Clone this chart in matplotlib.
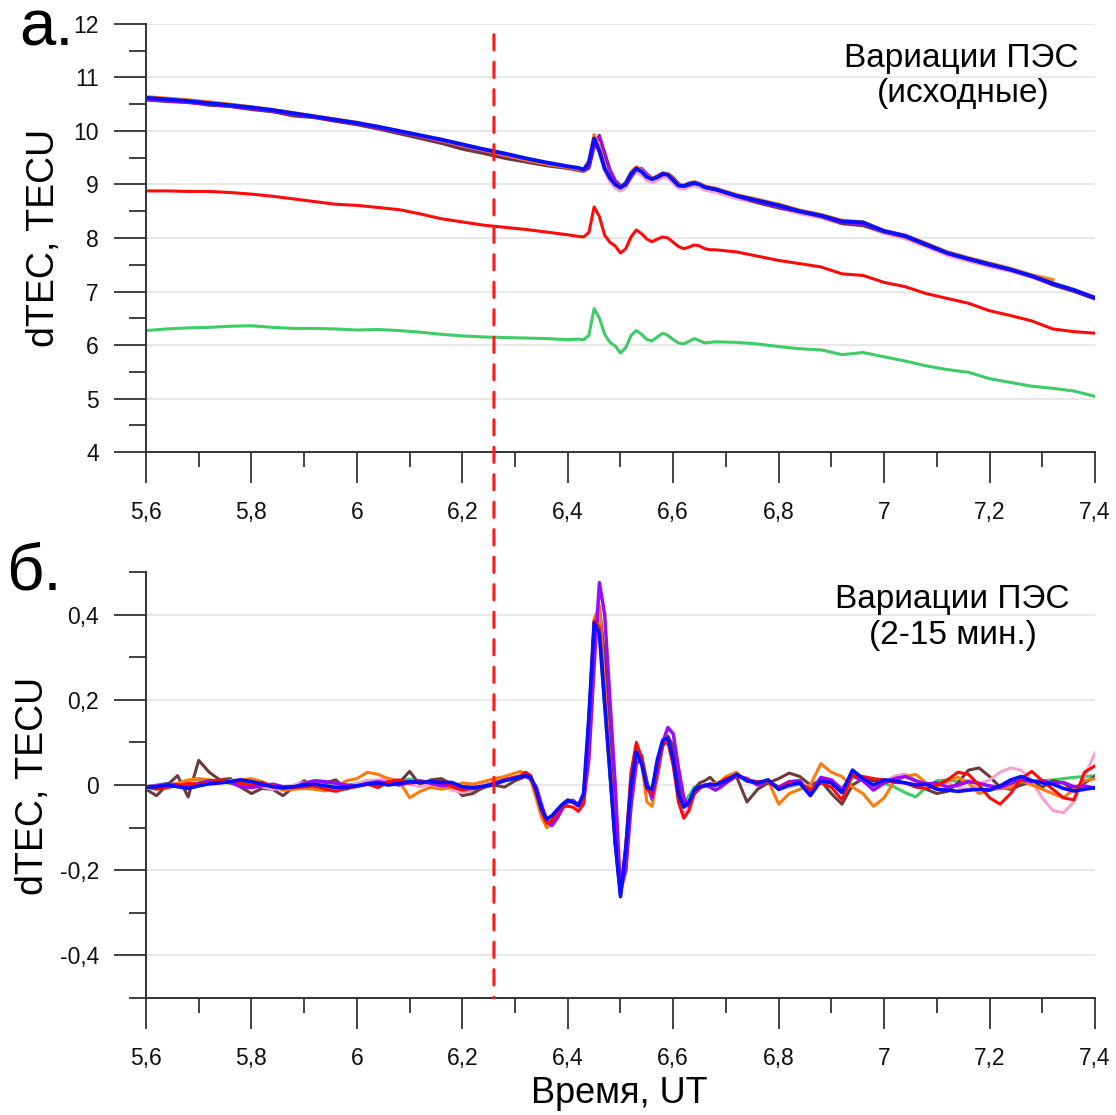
import matplotlib

matplotlib.use("Agg")
import matplotlib.pyplot as plt
import numpy as np
from matplotlib.patches import ConnectionPatch
from matplotlib.ticker import FuncFormatter, MultipleLocator

plt.rcParams["font.family"] = ["Liberation Sans", "DejaVu Sans"]
plt.rcParams["axes.unicode_minus"] = False

# --- panel a: raw TEC ---
TOP_TIME = [
    5.60, 5.64, 5.68, 5.72, 5.76, 5.80, 5.84, 5.88, 5.92, 5.96, 6.00,
    6.04, 6.08, 6.12, 6.16, 6.20, 6.24, 6.28, 6.32, 6.36, 6.40,
    6.42, 6.43, 6.44, 6.45, 6.46, 6.47, 6.48, 6.49, 6.50, 6.51, 6.52,
    6.53, 6.54, 6.55, 6.56, 6.57, 6.58, 6.59, 6.60, 6.61, 6.62, 6.63,
    6.64, 6.65, 6.66, 6.67, 6.68,
    6.72, 6.76, 6.80, 6.84, 6.88, 6.92, 6.96, 7.00, 7.04, 7.08, 7.12,
    7.16, 7.20, 7.24, 7.28, 7.32, 7.36, 7.40,
]
TOP_BLUE = [
    10.62, 10.59, 10.56, 10.52, 10.48, 10.44, 10.39, 10.33, 10.27, 10.21, 10.15,
    10.08, 10.00, 9.92, 9.84, 9.75, 9.66, 9.58, 9.49, 9.41, 9.34,
    9.31, 9.28, 9.40, 9.86, 9.62, 9.30, 9.12, 9.00, 8.94, 9.02, 9.20,
    9.30, 9.24, 9.14, 9.10, 9.14, 9.20, 9.18, 9.08, 8.98, 8.97, 9.01,
    9.03, 9.00, 8.95, 8.93, 8.91,
    8.79, 8.70, 8.61, 8.50, 8.42, 8.31, 8.29, 8.13, 8.04, 7.88, 7.72,
    7.61, 7.51, 7.41, 7.29, 7.15, 7.03, 6.88,
]
TOP_ORANGE = [
    10.64, 10.61, 10.58, 10.54, 10.50, 10.45, 10.40, 10.34, 10.28, 10.22, 10.16,
    10.08, 10.00, 9.91, 9.82, 9.73, 9.64, 9.55, 9.46, 9.38, 9.32,
    9.29, 9.27, 9.45, 9.93, 9.70, 9.34, 9.13, 9.01, 8.95, 9.04, 9.23,
    9.33, 9.27, 9.16, 9.12, 9.16, 9.22, 9.20, 9.10, 9.00, 8.99, 9.03,
    9.05, 9.02, 8.97, 8.95, 8.93,
    8.81, 8.72, 8.63, 8.52, 8.44, 8.33, 8.30, 8.14, 8.05, 7.90, 7.74,
    7.63, 7.53, 7.43, 7.31, 7.22, np.nan, np.nan,
]
TOP_BROWN = [
    10.58, 10.55, 10.54, 10.48, 10.46, 10.40, 10.36, 10.28, 10.25, 10.18, 10.12,
    10.04, 9.95, 9.86, 9.77, 9.66, 9.58, 9.49, 9.42, 9.35, 9.30,
    9.27, 9.25, 9.30, 9.70, 9.92, 9.55, 9.25, 9.05, 8.97, 8.98, 9.14,
    9.29, 9.28, 9.18, 9.11, 9.13, 9.19, 9.20, 9.12, 9.01, 8.96, 8.99,
    9.02, 9.00, 8.96, 8.92, 8.91,
    8.78, 8.66, 8.56, 8.49, 8.40, 8.27, 8.23, 8.11, 8.02, 7.86, 7.71,
    7.60, 7.49, 7.40, 7.29, 7.12, 7.00, 6.86,
]
TOP_PINK = [
    10.60, 10.57, 10.54, 10.50, 10.46, 10.42, 10.37, 10.31, 10.25, 10.19, 10.12,
    10.04, 9.96, 9.87, 9.78, 9.69, 9.60, 9.52, 9.44, 9.37, 9.31,
    9.26, 9.24, 9.35, 9.78, 9.62, 9.25, 9.06, 8.94, 8.88, 8.95, 9.13,
    9.24, 9.18, 9.08, 9.04, 9.08, 9.14, 9.12, 9.03, 8.93, 8.92, 8.96,
    8.98, 8.95, 8.90, 8.88, 8.86,
    8.74, 8.66, 8.57, 8.46, 8.38, 8.27, 8.24, 8.09, 7.99, 7.84, 7.68,
    7.57, 7.47, 7.38, 7.27, 7.13, 7.01, 6.90,
]
TOP_PURPLE = [
    10.59, 10.56, 10.53, 10.50, 10.46, 10.42, 10.37, 10.31, 10.26, 10.20, 10.14,
    10.06, 9.98, 9.90, 9.81, 9.72, 9.63, 9.54, 9.46, 9.38, 9.32,
    9.29, 9.27, 9.32, 9.72, 9.90, 9.60, 9.28, 9.08, 8.98, 8.99, 9.15,
    9.29, 9.30, 9.20, 9.12, 9.13, 9.18, 9.20, 9.13, 9.02, 8.97, 8.99,
    9.02, 9.01, 8.97, 8.93, 8.91,
    8.78, 8.68, 8.58, 8.49, 8.41, 8.29, 8.26, 8.12, 8.03, 7.87, 7.71,
    7.60, 7.50, 7.40, 7.28, 7.14, 7.02, 6.87,
]
TOP_RED = [
    8.88, 8.88, 8.87, 8.87, 8.85, 8.82, 8.78, 8.73, 8.68, 8.63, 8.61,
    8.57, 8.53, 8.45, 8.36, 8.30, 8.24, 8.20, 8.16, 8.11, 8.06,
    8.03, 8.02, 8.10, 8.58, 8.40, 8.05, 7.92, 7.85, 7.72, 7.80, 8.02,
    8.15, 8.08, 7.98, 7.93, 7.98, 8.02, 8.00, 7.92, 7.84, 7.80, 7.83,
    7.87, 7.85, 7.80, 7.78, 7.78,
    7.74, 7.66, 7.58, 7.52, 7.46, 7.33, 7.30, 7.17, 7.09, 6.96, 6.87,
    6.78, 6.64, 6.55, 6.45, 6.30, 6.25, 6.22,
]
TOP_GREEN = [
    6.27, 6.30, 6.32, 6.33, 6.35, 6.36, 6.33, 6.31, 6.31, 6.30, 6.28,
    6.29, 6.27, 6.24, 6.20, 6.17, 6.15, 6.14, 6.13, 6.12, 6.10,
    6.11, 6.10, 6.18, 6.68, 6.50, 6.20, 6.05, 5.98, 5.85, 5.95, 6.18,
    6.27, 6.20, 6.10, 6.08, 6.15, 6.22, 6.18, 6.10, 6.04, 6.02, 6.07,
    6.12, 6.08, 6.04, 6.05, 6.06,
    6.05, 6.02, 5.97, 5.93, 5.91, 5.82, 5.86, 5.78, 5.70, 5.61, 5.54,
    5.49, 5.37, 5.30, 5.23, 5.19, 5.14, 5.04,
]

# --- panel b: 2-15 min filtered TEC ---
BOT_TIME = [
    5.60, 5.62, 5.64, 5.66, 5.68, 5.70, 5.72, 5.74, 5.76, 5.78, 5.80, 5.82,
    5.84, 5.86, 5.88, 5.90, 5.92, 5.94, 5.96, 5.98, 6.00, 6.02, 6.04, 6.06,
    6.08, 6.10, 6.12, 6.14, 6.16, 6.18, 6.20, 6.22, 6.24, 6.26, 6.28, 6.30,
    6.31, 6.32, 6.33, 6.34, 6.35, 6.36, 6.37, 6.38, 6.39, 6.40, 6.41, 6.42,
    6.43, 6.44, 6.45, 6.46, 6.47, 6.48, 6.49, 6.50, 6.51, 6.52, 6.53, 6.54,
    6.55, 6.56, 6.57, 6.58, 6.59, 6.60, 6.61, 6.62, 6.63, 6.64, 6.65, 6.66,
    6.67, 6.68, 6.69,
    6.70, 6.72, 6.74, 6.76, 6.78, 6.80, 6.82, 6.84, 6.86, 6.88, 6.90, 6.92,
    6.94, 6.96, 6.98, 7.00, 7.02, 7.04, 7.06, 7.08, 7.10, 7.12, 7.14, 7.16,
    7.18, 7.20, 7.22, 7.24, 7.26, 7.28, 7.30, 7.32, 7.34, 7.36, 7.38, 7.40,
]
BOT_BLUE = [
    -0.005, -0.004, 0.000, -0.004, -0.008, -0.002, 0.003, 0.005, 0.008, 0.012, 0.008, 0.002,
    -0.004, -0.006, -0.004, 0.000, 0.002, -0.002, -0.006, -0.005, -0.002, 0.002, 0.004, 0.000,
    0.004, 0.008, 0.006, 0.008, 0.006, 0.006, -0.004, -0.006, -0.003, 0.002, 0.010, 0.016,
    0.019, 0.022, 0.018, -0.010, -0.055, -0.080, -0.072, -0.058, -0.045, -0.036, -0.040, -0.048,
    -0.020, 0.160, 0.380, 0.356, 0.190, 0.030, -0.135, -0.262, -0.150, 0.000, 0.078, 0.050,
    -0.005, -0.010, 0.060, 0.105, 0.110, 0.060, -0.020, -0.052, -0.040, -0.012, -0.004, -0.002,
    0.002, 0.000, 0.005,
    0.010, 0.025, 0.010, 0.005, 0.012, -0.010, 0.000, 0.005, -0.025, 0.010, 0.005, -0.018,
    0.035, 0.015, 0.000, 0.012, 0.010, 0.005, 0.000, 0.002, -0.010, -0.012, -0.015, -0.012,
    -0.010, -0.012, -0.002, 0.012, 0.020, 0.010, 0.005, 0.002, -0.008, -0.014, -0.010, -0.006,
]
BOT_PURPLE = [
    -0.004, -0.002, 0.002, 0.000, -0.004, 0.004, 0.010, 0.010, 0.006, -0.004, -0.006, -0.002,
    0.002, -0.004, -0.006, 0.004, 0.010, 0.008, 0.004, 0.000, -0.002, 0.004, 0.008, 0.004,
    0.000, 0.006, 0.010, 0.004, -0.002, 0.000, -0.006, -0.008, -0.004, 0.004, 0.012, 0.018,
    0.020, 0.020, 0.014, -0.004, -0.045, -0.085, -0.095, -0.078, -0.055, -0.038, -0.036, -0.048,
    -0.040, 0.060, 0.280, 0.475, 0.400, 0.200, 0.000, -0.250, -0.200, -0.050, 0.050, 0.060,
    0.000, -0.030, 0.030, 0.100, 0.135, 0.120, 0.040, -0.030, -0.050, -0.020, -0.008, 0.000,
    -0.005, -0.012, -0.005,
    0.005, 0.022, 0.015, 0.000, 0.008, -0.005, 0.008, 0.010, -0.020, 0.018, 0.012, -0.010,
    0.022, 0.010, -0.012, 0.005, 0.015, 0.020, 0.010, 0.002, 0.005, -0.005, 0.000, 0.008,
    0.004, -0.002, -0.006, 0.004, 0.012, 0.008, 0.010, 0.004, 0.006, -0.004, -0.002, -0.008,
]
BOT_ORANGE = [
    -0.008, -0.006, -0.004, 0.004, 0.012, 0.015, 0.012, 0.008, 0.005, 0.012, 0.015, 0.008,
    -0.005, -0.012, -0.010, -0.008, -0.010, -0.014, -0.005, 0.010, 0.015, 0.030, 0.025, 0.015,
    0.010, -0.030, -0.015, -0.005, -0.010, -0.005, 0.005, 0.002, 0.008, 0.015, 0.020, 0.028,
    0.032, 0.026, 0.010, -0.030, -0.075, -0.100, -0.092, -0.070, -0.050, -0.042, -0.040, -0.050,
    -0.035, 0.140, 0.390, 0.420, 0.230, 0.050, -0.120, -0.255, -0.160, 0.010, 0.090, 0.050,
    -0.040, -0.050, 0.020, 0.100, 0.110, 0.060, -0.020, -0.050, -0.045, -0.015, -0.005, 0.000,
    -0.002, 0.004, 0.008,
    0.020, 0.030, 0.008, 0.005, 0.010, -0.045, -0.020, -0.010, 0.000, 0.050, 0.030, 0.020,
    -0.005, -0.020, -0.050, -0.030, 0.010, 0.020, 0.025, 0.005, -0.005, 0.010, 0.018, 0.005,
    -0.020, -0.012, -0.008, -0.006, 0.010, 0.000, -0.010, -0.020, -0.030, -0.010, 0.010, 0.015,
]
BOT_RED = [
    -0.004, -0.010, -0.006, -0.002, 0.004, 0.002, 0.006, 0.012, 0.008, 0.004, 0.000, 0.006,
    -0.002, -0.008, -0.006, -0.004, -0.002, -0.010, -0.015, -0.008, -0.004, 0.002, -0.006, 0.008,
    0.012, 0.004, 0.008, 0.006, 0.010, -0.004, -0.012, -0.008, -0.004, 0.004, 0.012, 0.018,
    0.022, 0.030, 0.022, -0.020, -0.060, -0.090, -0.085, -0.065, -0.050, -0.050, -0.052, -0.062,
    -0.045, 0.150, 0.385, 0.370, 0.200, 0.030, -0.140, -0.258, -0.140, 0.030, 0.100, 0.065,
    -0.010, -0.020, 0.045, 0.095, 0.100, 0.045, -0.040, -0.078, -0.060, -0.020, -0.008, 0.000,
    0.002, 0.000, 0.008,
    0.015, 0.022, 0.012, 0.008, 0.006, -0.008, 0.005, 0.004, -0.010, 0.005, -0.005, -0.035,
    0.022, 0.020, 0.015, 0.012, 0.006, 0.005, -0.005, -0.008, 0.000, 0.012, 0.030, 0.025,
    0.000, -0.030, -0.045, -0.020, 0.015, 0.032, 0.010, -0.010, -0.030, -0.035, 0.030, 0.045,
]
BOT_BROWN = [
    -0.010, -0.025, 0.000, 0.022, -0.028, 0.058, 0.030, 0.012, 0.015, -0.005, -0.020, -0.008,
    -0.010, -0.025, -0.005, 0.010, -0.005, 0.005, 0.012, -0.010, 0.000, 0.010, -0.005, 0.015,
    0.005, 0.032, 0.000, 0.012, 0.015, 0.002, -0.025, -0.020, -0.005, 0.000, -0.005, 0.010,
    0.015, 0.020, 0.015, -0.012, -0.060, -0.090, -0.085, -0.060, -0.045, -0.035, -0.038, -0.045,
    -0.035, 0.080, 0.320, 0.420, 0.300, 0.100, -0.080, -0.240, -0.200, -0.030, 0.070, 0.070,
    0.010, -0.035, 0.020, 0.090, 0.115, 0.090, 0.010, -0.045, -0.040, -0.010, 0.005, 0.010,
    0.018, 0.005, -0.002,
    0.005, 0.020, -0.040, -0.010, 0.005, 0.015, 0.028, 0.020, 0.000, 0.010, -0.020, -0.045,
    0.000, 0.015, 0.010, 0.005, 0.020, 0.025, 0.010, -0.010, -0.020, -0.015, 0.005, 0.035,
    0.040, 0.020, -0.005, -0.010, 0.000, 0.008, -0.005, 0.010, 0.005, -0.012, 0.005, 0.020,
]
BOT_PINK = [
    -0.006, -0.004, 0.000, 0.004, 0.008, 0.006, 0.002, 0.004, 0.010, 0.014, 0.006, -0.004,
    -0.010, -0.008, 0.000, 0.006, 0.008, -0.002, -0.010, -0.006, 0.004, 0.010, 0.012, 0.014,
    0.008, 0.002, -0.004, 0.002, 0.000, -0.012, -0.018, -0.010, 0.002, 0.010, 0.014, 0.018,
    0.020, 0.025, 0.020, -0.018, -0.062, -0.092, -0.088, -0.066, -0.048, -0.040, -0.042, -0.052,
    -0.040, 0.130, 0.370, 0.380, 0.210, 0.040, -0.130, -0.258, -0.160, 0.015, 0.090, 0.060,
    -0.005, -0.020, 0.040, 0.100, 0.108, 0.055, -0.030, -0.070, -0.050, -0.015, -0.004, 0.002,
    0.000, 0.004, 0.008,
    0.012, 0.024, 0.010, 0.004, 0.012, -0.012, -0.004, 0.006, -0.015, 0.012, 0.008, -0.015,
    0.020, 0.010, -0.008, 0.010, 0.020, 0.025, 0.008, -0.004, 0.000, 0.005, -0.005, -0.010,
    0.002, 0.012, 0.030, 0.040, 0.035, 0.010, -0.030, -0.060, -0.065, -0.040, 0.020, 0.075,
]
BOT_GREEN = [
    -0.004, 0.000, 0.004, 0.002, 0.004, 0.010, 0.012, 0.008, 0.004, 0.006, 0.002, -0.006,
    -0.008, -0.004, -0.002, 0.004, 0.006, 0.000, -0.004, -0.002, 0.004, 0.006, 0.002, 0.004,
    0.010, 0.014, 0.008, 0.004, 0.006, 0.000, -0.010, -0.014, -0.008, 0.004, 0.012, 0.016,
    0.020, 0.022, 0.016, -0.012, -0.055, -0.082, -0.078, -0.060, -0.046, -0.038, -0.040, -0.050,
    -0.030, 0.160, 0.375, 0.350, 0.180, 0.020, -0.140, -0.260, -0.155, 0.010, 0.085, 0.055,
    0.000, -0.012, 0.055, 0.102, 0.108, 0.055, -0.020, -0.040, -0.025, -0.005, -0.002, 0.000,
    0.002, -0.002, 0.004,
    0.010, 0.022, 0.012, 0.006, 0.010, -0.008, -0.004, 0.002, -0.022, 0.012, 0.010, -0.012,
    0.025, 0.012, -0.002, 0.004, -0.005, -0.018, -0.028, -0.005, 0.010, 0.012, 0.008, 0.010,
    0.004, -0.005, -0.008, 0.000, 0.002, 0.004, 0.010, 0.012, 0.015, 0.018, 0.020, 0.022,
]

EVENT_TIME = 6.26  # vertical dashed marker

COLORS = {
    "blue": "#0a10ff",
    "red": "#ff0a0a",
    "green": "#3dcc66",
    "orange": "#ff7a0e",
    "brown": "#6b3b3b",
    "purple": "#9a0aff",
    "pink": "#f7a0d0",
}

AXIS_COLOR = "#333333"
GRID_COLOR = "#e4e4e4"


def comma_fmt(v, _pos):
    return f"{round(v, 2) + 0.0:g}".replace(".", ",")


def style_axis(ax, ylim, ymajor, yminor):
    ax.set_xlim(5.6, 7.4)
    ax.set_ylim(*ylim)
    for side in ("top", "right"):
        ax.spines[side].set_visible(False)
    for side in ("left", "bottom"):
        ax.spines[side].set_color(AXIS_COLOR)
        ax.spines[side].set_linewidth(1.4)

    ax.xaxis.set_major_locator(MultipleLocator(0.2))
    ax.xaxis.set_minor_locator(MultipleLocator(0.1))
    ax.yaxis.set_major_locator(MultipleLocator(ymajor))
    ax.yaxis.set_minor_locator(MultipleLocator(yminor))
    ax.xaxis.set_major_formatter(FuncFormatter(comma_fmt))
    ax.yaxis.set_major_formatter(FuncFormatter(comma_fmt))

    ax.tick_params(which="both", direction="out", color=AXIS_COLOR, width=1.3,
                   labelsize=16.5, labelcolor="#111111")
    ax.tick_params(axis="x", which="major", length=22, pad=13)
    ax.tick_params(axis="x", which="minor", length=11)
    ax.tick_params(axis="y", which="major", length=23, pad=11)
    ax.tick_params(axis="y", which="minor", length=12)

    ax.yaxis.grid(True, which="major", color=GRID_COLOR, linewidth=1.2)
    ax.set_axisbelow(True)


fig = plt.figure(figsize=(11.16, 11.15), dpi=100)
ax_top = fig.add_axes([0.1308, 0.5946, 0.8504, 0.3839])
ax_bot = fig.add_axes([0.1308, 0.1049, 0.8504, 0.3821])

# panel a
t_top = np.array(TOP_TIME)
for vals, key, lw in [
    (TOP_GREEN, "green", 2.2),
    (TOP_RED, "red", 2.2),
    (TOP_PINK, "pink", 2.6),
    (TOP_BROWN, "brown", 2.2),
    (TOP_PURPLE, "purple", 2.2),
    (TOP_ORANGE, "orange", 2.4),
    (TOP_BLUE, "blue", 2.8),
]:
    ax_top.plot(t_top, vals, color=COLORS[key], lw=lw, solid_joinstyle="round")
style_axis(ax_top, (4, 12), 1, 0.5)

# panel b
t_bot = np.array(BOT_TIME)
for vals, key, lw in [
    (BOT_GREEN, "green", 2.2),
    (BOT_BROWN, "brown", 2.2),
    (BOT_PINK, "pink", 2.2),
    (BOT_ORANGE, "orange", 2.2),
    (BOT_PURPLE, "purple", 2.5),
    (BOT_RED, "red", 2.2),
    (BOT_BLUE, "blue", 2.6),
]:
    ax_bot.plot(t_bot, vals, color=COLORS[key], lw=lw, solid_joinstyle="round")
style_axis(ax_bot, (-0.5, 0.5), 0.2, 0.1)

# dashed event marker running through both panels
marker = ConnectionPatch(
    xyA=(EVENT_TIME, 11.8), coordsA=ax_top.transData,
    xyB=(EVENT_TIME, -0.5), coordsB=ax_bot.transData,
    color="#ff1a1a", linewidth=2.2, linestyle=(0, (5, 4)), zorder=10,
)
fig.add_artist(marker)

# labels
W, H = 1116, 1115
fig.text(19 / W, 1 - 45 / H, "а.", fontsize=47, ha="left", va="baseline")
fig.text(6 / W, 1 - 590 / H, "б.", fontsize=47, ha="left", va="baseline")

fig.text(961 / W, 1 - 67 / H, "Вариации ПЭС", fontsize=24, ha="center", va="baseline")
fig.text(963 / W, 1 - 102 / H, "(исходные)", fontsize=24, ha="center", va="baseline")
fig.text(952 / W, 1 - 608 / H, "Вариации ПЭС", fontsize=24, ha="center", va="baseline")
fig.text(953 / W, 1 - 644 / H, "(2-15 мин.)", fontsize=24, ha="center", va="baseline")

fig.text(44 / W, 1 - 238 / H, "dTEC, TECU", fontsize=27, rotation=90, ha="center", va="center")
fig.text(33 / W, 1 - 786 / H, "dTEC, TECU", fontsize=27, rotation=90, ha="center", va="center")
fig.text(619 / W, 1 - 1103 / H, "Время, UT", fontsize=26, ha="center", va="baseline")

fig.savefig("out.png", dpi=100)
